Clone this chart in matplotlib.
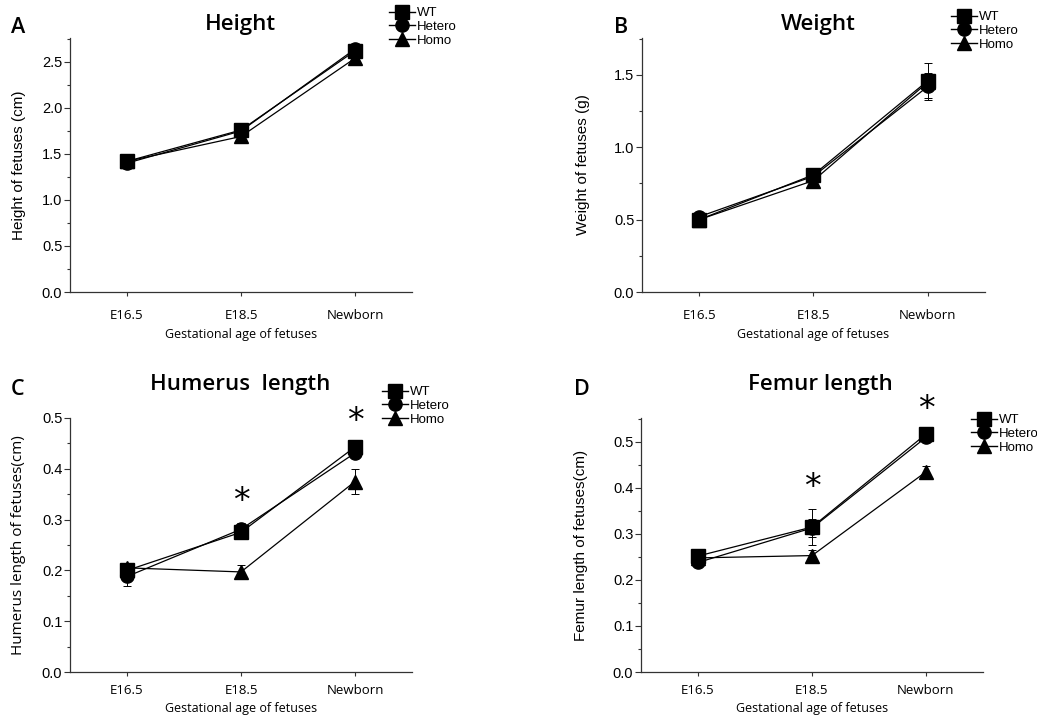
import numpy as np
import matplotlib
matplotlib.use('Agg')
import matplotlib.pyplot as plt
from matplotlib.ticker import MultipleLocator, FormatStrFormatter

# categories on the x axis
stages = ['E16.5', 'E18.5', 'Newborn']
groups = ['WT', 'Hetero', 'Homo']

# Height (cm)
height_wt = [1.42, 1.76, 2.62]
height_het = [1.40, 1.75, 2.64]
height_homo = [1.42, 1.69, 2.54]
height_wt_err = [0.03, 0.04, 0.03]
height_het_err = [0.02, 0.03, 0.02]
height_homo_err = [0.03, 0.05, 0.05]

# Weight (g)
weight_wt = [0.50, 0.81, 1.46]
weight_het = [0.52, 0.80, 1.42]
weight_homo = [0.50, 0.77, 1.45]
weight_wt_err = [0.03, 0.03, 0.12]
weight_het_err = [0.02, 0.02, 0.09]
weight_homo_err = [0.03, 0.04, 0.05]

# Humerus length (cm)
humerus_wt = [0.200, 0.275, 0.443]
humerus_het = [0.188, 0.281, 0.431]
humerus_homo = [0.205, 0.197, 0.375]
humerus_wt_err = [0.010, 0.010, 0.008]
humerus_het_err = [0.019, 0.013, 0.008]
humerus_homo_err = [0.008, 0.014, 0.025]

# Femur length (cm)
femur_wt = [0.252, 0.315, 0.517]
femur_het = [0.238, 0.313, 0.510]
femur_homo = [0.248, 0.253, 0.435]
femur_wt_err = [0.012, 0.040, 0.010]
femur_het_err = [0.008, 0.020, 0.008]
femur_homo_err = [0.006, 0.013, 0.012]

# significance marks: (stage index, y position)
humerus_stars = [(1, 0.335), (2, 0.493)]
femur_stars = [(1, 0.400), (2, 0.570)]

W, H = 1037, 720
fig = plt.figure(figsize=(W / 100, H / 100), dpi=100)

TITLE_FONT = 'Open Sans'
ARIAL = 'Liberation Sans'


def px_rect(left, top, right, bottom):
    return [left / W, 1 - bottom / H, (right - left) / W, (bottom - top) / H]


def draw_panel(rect, series, errs, ylim, major, minor, ylabel, ylabel_x,
               ylabel_font, tick_pad, xlabel_y, legend_at):
    ax = fig.add_axes(rect)
    x = np.arange(len(stages))
    markers = ['s', 'o', '^']
    handles = []
    for vals, err, m, name in zip(series, errs, markers, groups):
        ax.errorbar(x, vals, yerr=err, color='black', ecolor='black',
                    elinewidth=0.7, capsize=3, capthick=0.7, lw=0.9,
                    marker=m, markersize=9.5, zorder=3)
        h, = ax.plot([], [], color='black', marker=m, markersize=9.5, lw=1.0,
                     label=name)
        handles.append(h)
    ax.set_xlim(-0.5, 2.5)
    ax.set_ylim(*ylim)
    ax.set_xticks(x)
    ax.set_xticklabels(stages, fontfamily=TITLE_FONT, fontsize=9.5)
    ax.yaxis.set_major_locator(MultipleLocator(major))
    ax.yaxis.set_minor_locator(MultipleLocator(minor))
    ax.yaxis.set_major_formatter(FormatStrFormatter('%.1f'))
    for lbl in ax.get_yticklabels():
        lbl.set_fontfamily(ARIAL)
        lbl.set_fontsize(10.5)
    ax.tick_params(axis='y', which='major', direction='out', length=4,
                   width=0.8, pad=1.5, color='#333333')
    ax.tick_params(axis='y', which='minor', direction='out', length=2.5,
                   width=0.8, color='#333333')
    ax.tick_params(axis='x', which='major', direction='out', length=3,
                   width=0.8, pad=tick_pad, color='#333333')
    for side in ['top', 'right']:
        ax.spines[side].set_visible(False)
    for side in ['left', 'bottom']:
        ax.spines[side].set_linewidth(0.9)
        ax.spines[side].set_color('#333333')
    ax.set_ylabel(ylabel, fontfamily=ylabel_font, fontsize=11)
    ax.yaxis.set_label_coords(ylabel_x, 0.5)
    ax.set_xlabel('Gestational age of fetuses', fontfamily=TITLE_FONT,
                  fontsize=9)
    ax.xaxis.set_label_coords(0.5, xlabel_y)
    ax.legend(handles=handles, loc='upper left',
              bbox_to_anchor=(legend_at[0] / W, 1 - legend_at[1] / H),
              bbox_transform=fig.transFigure, frameon=False,
              prop={'family': ARIAL, 'size': 9.5}, handlelength=2.0,
              handletextpad=0.1, labelspacing=0.12, borderpad=0,
              borderaxespad=0)
    return ax


axA = draw_panel(px_rect(70, 38, 412, 292),
                 [height_wt, height_het, height_homo],
                 [height_wt_err, height_het_err, height_homo_err],
                 (0, 2.76), 0.5, 0.25, 'Height of fetuses (cm)', -0.13,
                 ARIAL, 9, -0.14, (389, 7))
axB = draw_panel(px_rect(642, 38, 985, 292),
                 [weight_wt, weight_het, weight_homo],
                 [weight_wt_err, weight_het_err, weight_homo_err],
                 (0, 1.755), 0.5, 0.25, 'Weight of fetuses (g)', -0.152,
                 ARIAL, 9, -0.14, (951, 11))
axC = draw_panel(px_rect(70, 418, 412, 672),
                 [humerus_wt, humerus_het, humerus_homo],
                 [humerus_wt_err, humerus_het_err, humerus_homo_err],
                 (0, 0.5), 0.1, 0.05, 'Humerus length of fetuses(cm)', -0.13,
                 TITLE_FONT, 6, -0.12, (382, 386))
axD = draw_panel(px_rect(641, 418, 983, 672),
                 [femur_wt, femur_het, femur_homo],
                 [femur_wt_err, femur_het_err, femur_homo_err],
                 (0, 0.552), 0.1, 0.05, 'Femur length of fetuses(cm)', -0.155,
                 ARIAL, 6, -0.12, (971, 414))

for ax, stars in [(axC, humerus_stars), (axD, femur_stars)]:
    for xi, yi in stars:
        ax.text(xi, yi, '*', ha='center', va='center', fontsize=24,
                fontfamily='DejaVu Sans', clip_on=False)

# panel titles and letters
titles = [('Height', 240, 30), ('Weight', 818, 30),
          ('Humerus  length', 240, 390), ('Femur length', 820, 390)]
for txt, cx, base in titles:
    fig.text(cx / W, 1 - base / H, txt, ha='center', va='baseline',
             fontfamily=TITLE_FONT, fontsize=16, fontweight='semibold')

letters = [('A', 11, 33), ('B', 614, 33), ('C', 11, 395), ('D', 574, 395)]
for txt, lx, base in letters:
    fig.text(lx / W, 1 - base / H, txt, ha='left', va='baseline',
             fontfamily=TITLE_FONT, fontsize=15.5, fontweight='semibold')

fig.savefig('out.png', dpi=100)
